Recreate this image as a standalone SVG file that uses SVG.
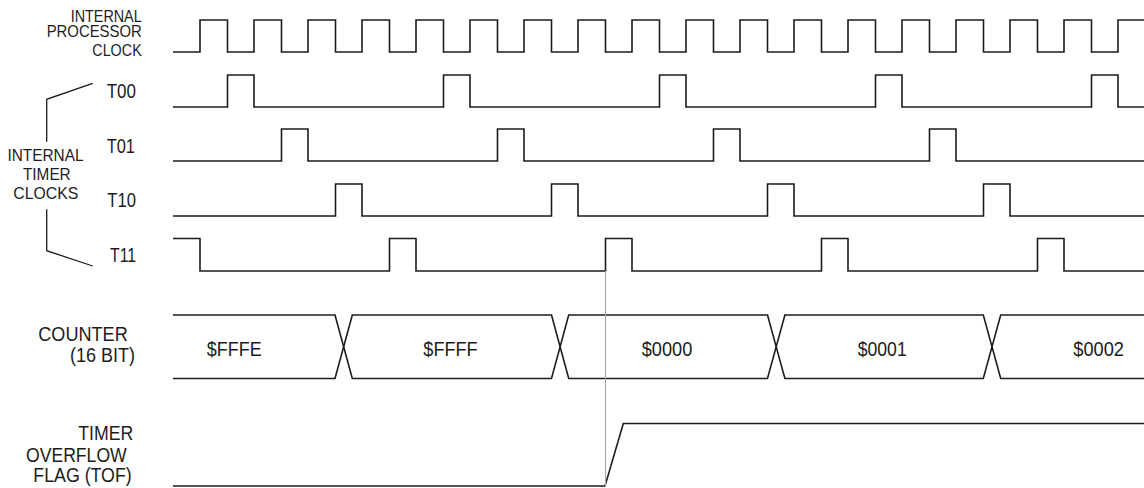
<svg xmlns="http://www.w3.org/2000/svg" width="1144" height="488" viewBox="0 0 1144 488">
<style>
.w{fill:none;stroke:#1c1c1c;stroke-width:1.6;stroke-linejoin:miter}
.b{fill:none;stroke:#1c1c1c;stroke-width:1.3}
.g{fill:none;stroke:#a8a8a8;stroke-width:1.2}
text{font-family:"Liberation Sans",Arial,Helvetica,sans-serif;fill:#1c1c1c}
.s16{font-size:16.5px}
.s20{font-size:20.5px}
.s18{font-size:19.5px}
</style>
<rect width="1144" height="488" fill="#ffffff"/>
<g id="clock">
<text class="s16" x="70.7" y="21.5" textLength="71" lengthAdjust="spacingAndGlyphs">INTERNAL</text>
<text class="s16" x="46.7" y="36.8" textLength="95" lengthAdjust="spacingAndGlyphs">PROCESSOR</text>
<text class="s16" x="92.3" y="56.3" textLength="49.4" lengthAdjust="spacingAndGlyphs">CLOCK</text>
<path class="w" d="M173,52 H200 V20 H227.5 V52 H254 V20 H281.5 V52 H308 V20 H335.5 V52 H362 V20 H389.5 V52 H416 V20 H443.5 V52 H470 V20 H497.5 V52 H524 V20 H551.5 V52 H578 V20 H605.5 V52 H632 V20 H659.5 V52 H686 V20 H713.5 V52 H740 V20 H767.5 V52 H794 V20 H821.5 V52 H848 V20 H875.5 V52 H902 V20 H929.5 V52 H956 V20 H983.5 V52 H1010 V20 H1037.5 V52 H1064 V20 H1091.5 V52 H1118 V20 H1144"/>
</g>
<g id="timer-clocks-label">
<text class="s16" x="7.5" y="161.3" textLength="76" lengthAdjust="spacingAndGlyphs">INTERNAL</text>
<text class="s16" x="23" y="180.3" textLength="47.7" lengthAdjust="spacingAndGlyphs">TIMER</text>
<text class="s16" x="13.3" y="198.8" textLength="65" lengthAdjust="spacingAndGlyphs">CLOCKS</text>
</g>
<g id="t00">
<text class="s20" x="106.7" y="98.3" textLength="29.3" lengthAdjust="spacingAndGlyphs">T00</text>
<path class="w" d="M173,107 H227.5 V75 H254 V107 H443.5 V75 H470 V107 H659.5 V75 H686 V107 H875.5 V75 H902 V107 H1091.5 V75 H1118 V107 H1144"/>
</g>
<g id="t01">
<text class="s20" x="106.7" y="153" textLength="28.3" lengthAdjust="spacingAndGlyphs">T01</text>
<path class="w" d="M173,161 H281.5 V129 H308 V161 H497.5 V129 H524 V161 H713.5 V129 H740 V161 H929.5 V129 H956 V161 H1144"/>
</g>
<g id="t10">
<text class="s20" x="107.3" y="206.7" textLength="28.7" lengthAdjust="spacingAndGlyphs">T10</text>
<path class="w" d="M173,216 H335.5 V184 H362 V216 H551.5 V184 H578 V216 H767.5 V184 H794 V216 H983.5 V184 H1010 V216 H1144"/>
</g>
<g id="t11">
<text class="s20" x="110" y="261.7" textLength="26" lengthAdjust="spacingAndGlyphs">T11</text>
<path class="w" d="M173,238.5 H200 V271 H389.5 V238.5 H416 V271 H605.5 V238.5 H632 V271 H821.5 V238.5 H848 V271 H1037.5 V238.5 H1064 V271 H1144"/>
</g>
<g id="counter">
<text class="s20" x="38.3" y="341" textLength="89.4" lengthAdjust="spacingAndGlyphs">COUNTER</text>
<text class="s20" x="70" y="362" textLength="65" lengthAdjust="spacingAndGlyphs">(16 BIT)</text>
<path class="w" d="M173,315 H335 L352.3,378.5 H551.5 L568.7,315 H767.5 L784.9,378.5 H983.3 L1000.7,315 H1144"/>
<path class="w" d="M173,378.5 H335 L352.3,315 H551.5 L568.7,378.5 H767.5 L784.9,315 H983.3 L1000.7,378.5 H1144"/>
<text class="s18" x="206.7" y="355.5" textLength="55" lengthAdjust="spacingAndGlyphs">$FFFE</text>
<text class="s18" x="423.3" y="355.5" textLength="54.4" lengthAdjust="spacingAndGlyphs">$FFFF</text>
<text class="s18" x="641.7" y="355.5" textLength="50.6" lengthAdjust="spacingAndGlyphs">$0000</text>
<text class="s18" x="857.7" y="355.5" textLength="49" lengthAdjust="spacingAndGlyphs">$0001</text>
<text class="s18" x="1073.3" y="355.5" textLength="50.7" lengthAdjust="spacingAndGlyphs">$0002</text>
</g>
<g id="tof">
<text class="s20" x="78.3" y="440" textLength="55" lengthAdjust="spacingAndGlyphs">TIMER</text>
<text class="s20" x="26" y="461.7" textLength="100.7" lengthAdjust="spacingAndGlyphs">OVERFLOW</text>
<text class="s20" x="33.3" y="481.5" textLength="98.4" lengthAdjust="spacingAndGlyphs">FLAG (TOF)</text>
<path class="w" d="M173,486 H605 L623.3,423.5 H1144"/>
</g>
<g id="connectors">
<path class="b" d="M92.7,83.3 L46.7,99.3 V141.7"/>
<path class="b" d="M46.7,209.3 V250.7 L92.7,266"/>
<path class="g" d="M605.5,271 V486"/>
</g>
</svg>
